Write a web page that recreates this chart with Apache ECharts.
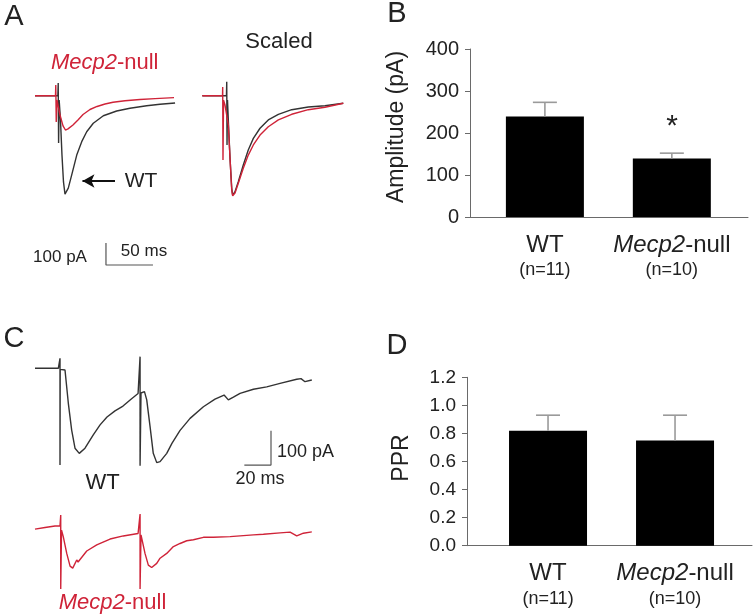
<!DOCTYPE html>
<html>
<head>
<meta charset="utf-8">
<script src="https://cdn.jsdelivr.net/npm/echarts@6/dist/echarts.min.js"></script>
<style>html,body{margin:0;padding:0;background:#fff;}#c{width:755px;height:615px;}</style>
</head>
<body>
<div id="c"></div>
<script>
// ---------- DATA ----------
// Panel A raw traces [time ms, current pA]
const aWtRaw = [[0,0],[24.3,0],[24.7,57.7],[25.1,-215],[25.7,-19.5],[27.1,-110],[28.7,-270],[30.3,-392],[31.9,-447],[33.5,-443],[35.4,-420],[39,-361],[44.4,-270],[49.7,-209],[55,-164],[62,-125],[72.7,-91],[86.9,-69.5],[101,-57],[118.8,-45.5],[133,-39],[149,-33]];
const aMecpRaw = [[0,0],[21.8,0],[22.1,48.6],[22.6,-119.5],[23.4,-19.5],[26.6,-87.7],[29.8,-137],[32.4,-156],[35.1,-151],[40.4,-133],[45.7,-110],[51.1,-85.5],[58.5,-62.7],[66,-49],[74.5,-37.7],[83,-30],[95.7,-23.2],[111.7,-17.3],[127.7,-13.2],[147.9,-8.6]];
// Panel A scaled traces
const aWtScaled = [[0,0],[25.7,0],[26,63.6],[26.3,-224],[26.8,-19.5],[27.9,-133],[29.5,-285],[31.3,-420],[32.3,-452],[34.8,-436],[38.3,-391],[43.6,-315],[48.9,-247],[54.3,-194],[61.4,-148],[70.2,-110],[80.9,-84.5],[95.1,-63.6],[112.8,-51.4],[130.5,-45.5],[150,-34.5]];
const aMecpScaled = [[0,0],[21.5,0],[21.7,39.5],[22,-292],[22.6,-20],[24.1,-42],[27.7,-133],[29.5,-285],[31.3,-429],[32.3,-455],[34.8,-442],[38.3,-398],[43.6,-330],[48.9,-270],[54.3,-224],[61.4,-179],[70.2,-141],[80.9,-110],[95.1,-84.5],[112.8,-63.6],[130.5,-52.7],[150,-34.5]];
// Panel C paired-pulse traces
const cWt = [[0,0],[17.5,0],[18.75,29],[18.75,-282],[18.9,-3],[22.5,-5],[25,-102],[27.5,-180],[30,-233],[33.2,-248],[37.5,-233],[43.7,-194],[48.8,-165],[54,-142],[60,-124],[66,-110],[72,-90],[77.3,-73.5],[78.8,34],[78.8,-284],[79.5,-72],[82.1,-68],[83.8,-92],[86.3,-170],[88.7,-248],[91.3,-275],[93.8,-272],[98.8,-248],[102.8,-218],[108.8,-181],[116.3,-146],[126.3,-112],[135,-90],[141.8,-78],[145,-92],[148.8,-84],[153.8,-73],[163.8,-61],[173.8,-54],[183.8,-44],[196.3,-32],[199.5,-30],[202.5,-39],[207.6,-34]];
const cMecp = [[0,-6],[7.5,-1.5],[15,3],[18.75,3],[19.3,35],[19.3,-181],[19.9,-9],[21.2,-28],[23.8,-77],[26.3,-114],[28.3,-120],[31.3,-96],[32.3,-102],[38.8,-70],[46.3,-52],[56.3,-35],[66.2,-26],[77.3,-19],[78.8,38],[78.8,-181],[79.5,-23],[82.5,-77],[85,-111],[87.5,-118],[91.3,-106],[93.8,-91],[98.8,-77],[103.8,-57],[108.8,-48],[113.8,-40],[118.8,-37],[126.3,-30],[133.8,-30],[146.3,-28],[163.8,-23],[171.3,-21],[183.8,-17],[191.3,-15],[196.3,-26],[201.3,-18],[207.6,-14]];
// scale bars
const scaleA = {pA: 100, ms: 50};
const scaleC = {pA: 100, ms: 20};
// Panel B amplitude
const groups = ['WT', 'Mecp2-null'];
const nLabels = ['(n=11)', '(n=10)'];
const ampMean = [239, 139];
const ampErr = [34, 13];
// Panel D paired-pulse ratio
const pprMean = [0.82, 0.75];
const pprErr = [0.11, 0.18];

// ---------- STYLE ----------
const FONT = "'Liberation Sans', Arial, sans-serif";
const RED = '#cf2338';
const TRACE = '#333333';
const AX = '#6a6a6a';
const TXT = '#222222';

const chart = echarts.init(document.getElementById('c'), null, {renderer: 'canvas'});

function lineSeries(data, xi, color, extra) {
  return Object.assign({
    type: 'line', xAxisIndex: xi, yAxisIndex: xi, data: data,
    showSymbol: false, symbol: 'none', clip: false, animation: false, silent: true,
    lineStyle: {color: color, width: 1.4}
  }, extra || {});
}
function errRender(params, api) {
  const x = api.value(0), m = api.value(1), t = api.value(2);
  const p0 = api.coord([x, m]), p1 = api.coord([x, t]);
  const hw = 12;
  const st = {stroke: '#9a9a9a', lineWidth: 1.6};
  return {type: 'group', children: [
    {type: 'line', shape: {x1: p0[0], y1: p0[1], x2: p1[0], y2: p1[1]}, style: st},
    {type: 'line', shape: {x1: p1[0] - hw, y1: p1[1], x2: p1[0] + hw, y2: p1[1]}, style: st}
  ]};
}
function catFormatter(v) {
  const i = Math.round(v);
  const name = groups[i];
  const parts = name.split('-');
  const main = parts.length > 1 ? '{i|' + parts[0] + '}{b|-' + parts.slice(1).join('-') + '}' : '{b|' + name + '}';
  return main + '\n{s|' + nLabels[i] + '}';
}
const catRich = {
  b: {fontSize: 24, fontFamily: FONT, color: TXT, lineHeight: 26},
  i: {fontSize: 24, fontFamily: FONT, color: TXT, fontStyle: 'italic', lineHeight: 26},
  s: {fontSize: 18, fontFamily: FONT, color: TXT, lineHeight: 24}
};

const hiddenX = (min, max, gi) => ({type: 'value', gridIndex: gi, min: min, max: max, show: false});
const hiddenY = (min, max, gi) => ({type: 'value', gridIndex: gi, min: min, max: max, show: false});

const barX = (gi, min, max) => ({
  type: 'value', gridIndex: gi, min: min, max: max,
  axisLine: {show: true, onZero: false, lineStyle: {color: AX, width: 1}},
  axisTick: {show: false}, splitLine: {show: false},
  axisLabel: {customValues: [0, 1], formatter: catFormatter, rich: catRich, margin: 15, color: TXT}
});
const barY = (gi, max, interval, fs, fmt) => ({
  type: 'value', gridIndex: gi, min: 0, max: max, interval: interval,
  axisLine: {show: true, onZero: false, lineStyle: {color: AX, width: 1}},
  axisTick: {show: true, length: 5, lineStyle: {color: AX}},
  splitLine: {show: false},
  axisLabel: {fontSize: fs, fontFamily: FONT, color: TXT, margin: 11, formatter: fmt}
});

function txt(x, y, text, size, color, opts) {
  return Object.assign({
    type: 'text', x: x, y: y, silent: true,
    style: Object.assign({text: text, fontSize: size, fontFamily: FONT, fill: color || TXT, align: 'center', verticalAlign: 'middle'}, (opts && opts.style) || {})
  }, (opts && opts.el) || {});
}
function mecpText(x, y, size, color) {
  return {
    type: 'text', x: x, y: y, silent: true,
    style: {
      text: '{i|Mecp2}{n|-null}', align: 'center', verticalAlign: 'middle',
      fontSize: size, fontFamily: FONT, fill: color,
      rich: {
        i: {fontSize: size, fontFamily: FONT, fontStyle: 'italic', fill: color, color: color},
        n: {fontSize: size, fontFamily: FONT, fill: color, color: color}
      }
    }
  };
}

const option = {
  backgroundColor: '#ffffff',
  animation: false,
  textStyle: {fontFamily: FONT},
  grid: [
    {left: 35, top: 78.1, width: 141, height: 193.6, outerBoundsMode: 'none'},
    {left: 202.3, top: 78.1, width: 141, height: 193.6, outerBoundsMode: 'none'},
    {left: 470, top: 49, width: 278, height: 168, outerBoundsMode: 'none'},
    {left: 35, top: 354.6, width: 280, height: 116.6, outerBoundsMode: 'none'},
    {left: 35, top: 513.3, width: 280, height: 116.6, outerBoundsMode: 'none'},
    {left: 467, top: 377.3, width: 285, height: 168.4, outerBoundsMode: 'none'}
  ],
  xAxis: [
    hiddenX(0, 150, 0), hiddenX(0, 150, 1),
    barX(2, -0.59, 1.6),
    hiddenX(0, 210, 3), hiddenX(0, 210, 4),
    barX(5, -0.638, 1.606)
  ],
  yAxis: [
    hiddenY(-800, 80, 0), hiddenY(-800, 80, 1),
    barY(2, 400, 100, 20),
    hiddenY(-300, 40, 3), hiddenY(-300, 40, 4),
    barY(5, 1.2, 0.2, 19, v => v.toFixed(1))
  ],
  series: [
    // Panel A raw
    lineSeries(aWtRaw, 0, TRACE, {
      markLine: {silent: true, animation: false, symbol: ['none', 'arrow'], symbolSize: [10, 12],
        label: {show: false}, lineStyle: {color: '#111', width: 2.2, type: 'solid'},
        data: [[{coord: [85.1, -387.7]}, {coord: [50.5, -387.7]}]]}
    }),
    lineSeries(aMecpRaw, 0, RED, {
      markLine: {silent: true, animation: false, symbol: ['none', 'arrow'], symbolSize: [10, 12],
        label: {show: false}, lineStyle: {color: RED, width: 2.2, type: 'solid'},
        data: [[{coord: [47.9, 85]}, {coord: [47.9, -40]}]]}
    }),
    // scale bar A
    lineSeries([[75.5, -769.5 + scaleA.pA], [75.5, -769.5], [75.5 + scaleA.ms, -769.5]], 0, '#555', {lineStyle: {color: '#555', width: 1.2}}),
    // Panel A scaled
    lineSeries(aWtScaled, 1, TRACE),
    lineSeries(aMecpScaled, 1, RED),
    // Panel B
    {type: 'bar', xAxisIndex: 2, yAxisIndex: 2, barWidth: 78, itemStyle: {color: '#000'},
      data: ampMean.map((v, i) => [i, v]), silent: true, animation: false},
    {type: 'custom', xAxisIndex: 2, yAxisIndex: 2, renderItem: errRender, z: 3,
      data: ampMean.map((v, i) => [i, v, v + ampErr[i]]), silent: true, animation: false},
    // Panel C
    lineSeries(cWt, 3, TRACE),
    lineSeries([[177, -282 + scaleC.pA], [177, -282], [177 - scaleC.ms, -282]], 3, '#555', {lineStyle: {color: '#555', width: 1.2}}),
    lineSeries(cMecp, 4, RED),
    // Panel D
    {type: 'bar', xAxisIndex: 5, yAxisIndex: 5, barWidth: 78, itemStyle: {color: '#000'},
      data: pprMean.map((v, i) => [i, v]), silent: true, animation: false},
    {type: 'custom', xAxisIndex: 5, yAxisIndex: 5, renderItem: errRender, z: 3,
      data: pprMean.map((v, i) => [i, v, v + pprErr[i]]), silent: true, animation: false}
  ],
  graphic: [
    txt(14, 17, 'A', 29, TXT),
    txt(397, 14, 'B', 29, TXT),
    txt(14, 339, 'C', 29, TXT),
    txt(397, 346, 'D', 29, TXT),
    mecpText(104.7, 62.5, 22, RED),
    txt(141, 181, 'WT', 21, TXT),
    txt(279, 42, 'Scaled', 22, TXT),
    txt(60, 257, '100 pA', 17, TXT),
    txt(144, 251, '50 ms', 17, TXT),
    {type: 'text', x: 397, y: 127, rotation: Math.PI / 2, silent: true,
      style: {text: 'Amplitude (pA)', fontSize: 23, fontFamily: FONT, fill: TXT, align: 'center', verticalAlign: 'middle'}},
    txt(672, 127, '*', 30, TXT),
    txt(102.5, 483, 'WT', 22, TXT),
    txt(277, 452, '100 pA', 18, TXT, {style: {align: 'left'}}),
    txt(260, 479, '20 ms', 18, TXT),
    mecpText(112.5, 603, 22, RED),
    {type: 'text', x: 402, y: 458, rotation: Math.PI / 2, silent: true,
      style: {text: 'PPR', fontSize: 23, fontFamily: FONT, fill: TXT, align: 'center', verticalAlign: 'middle'}}
  ]
};
chart.setOption(option);
</script>
</body>
</html>
